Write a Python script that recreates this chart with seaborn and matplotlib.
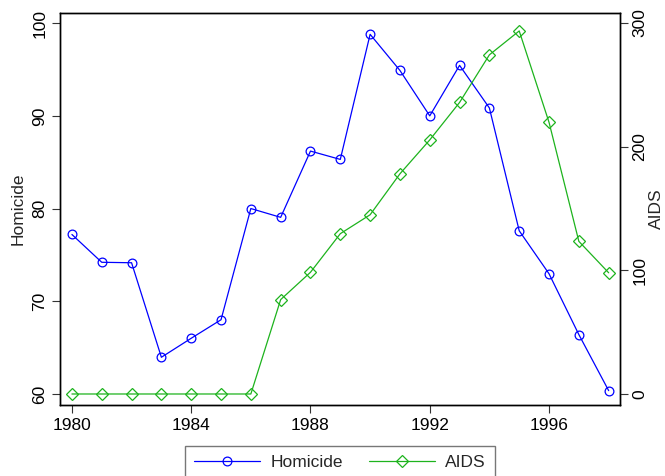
import matplotlib
matplotlib.use("Agg")
import matplotlib.pyplot as plt
import seaborn as sns
import pandas as pd
from matplotlib.lines import Line2D

years = list(range(1980, 1999))
homicide = [77.2, 74.2, 74.15, 63.95, 66.0, 68.0, 80.0, 79.05, 86.2, 85.3,
            98.8, 94.9, 90.0, 95.45, 90.85, 77.6, 72.96, 66.4, 60.35]
aids = [0, 0, 0, 0, 0, 0, 0, 76.3, 98.4, 129.6,
        144.9, 178.0, 205.4, 235.7, 274.2, 293.5, 219.6, 123.4, 98.0]
xticks = [1980, 1984, 1988, 1992, 1996]
left_ticks = [60, 70, 80, 90, 100]
right_ticks = [0, 100, 200, 300]

blue = "#0000FF"
green = "#1DB31D"
fs = 12.5

sns.set_style("ticks")
plt.rcParams["font.family"] = ["Liberation Sans", "DejaVu Sans"]
plt.rcParams["font.size"] = fs

df = pd.DataFrame({"year": years, "Homicide": homicide, "AIDS": aids})

fig = plt.figure(figsize=(6.65, 4.76), dpi=100)
ax = fig.add_axes([60 / 665, 1 - 405 / 476, 560 / 665, 392 / 476])
ax2 = ax.twinx()

circ = dict(marker="o", markersize=6.3, markerfacecolor="none",
            markeredgecolor=blue, markeredgewidth=0.9)
diam = dict(marker="D", markersize=6.3, markerfacecolor="none",
            markeredgecolor=green, markeredgewidth=0.9)

sns.lineplot(data=df, x="year", y="Homicide", ax=ax, color=blue, lw=0.9, **circ)
sns.lineplot(data=df, x="year", y="AIDS", ax=ax2, color=green, lw=0.9, **diam)

ax.set_xlim(1979.6, 1998.38)
ax.set_ylim(58.8, 101.1)
ax2.set_ylim(-8.9, 308)
ax.set_xticks(xticks)
ax.set_xticklabels([str(t) for t in xticks])
ax.set_yticks(left_ticks)
ax.set_yticklabels([str(t) for t in left_ticks], rotation=90, va="center")
ax2.set_yticks(right_ticks)
ax2.set_yticklabels([str(t) for t in right_ticks], rotation=90, va="center")

for a in (ax, ax2):
    a.tick_params(direction="out", length=6, width=0.8, colors="#333333",
                  labelcolor="black", labelsize=fs, pad=3)
    for s in a.spines.values():
        s.set_visible(True)
        s.set_color("black")
        s.set_linewidth(1.0)

ax.set_xlabel("")
ax.set_ylabel("Homicide", fontsize=fs, labelpad=5)
ax2.set_ylabel("AIDS", fontsize=fs, labelpad=1)

handles = [
    Line2D([], [], color=blue, lw=0.9, **circ),
    Line2D([], [], color=green, lw=0.9, **diam),
]
leg = fig.legend(handles, ["Homicide", "AIDS"], loc="upper center",
                 bbox_to_anchor=(340 / 665, 1 - 446 / 476), ncol=2,
                 frameon=True, fancybox=False, handlelength=3.8,
                 columnspacing=1.5, fontsize=fs, borderpad=0.5,
                 handletextpad=0.6, borderaxespad=0)
leg.get_frame().set_edgecolor("#555555")
leg.get_frame().set_linewidth(1.0)

fig.savefig("out.png", dpi=100)
